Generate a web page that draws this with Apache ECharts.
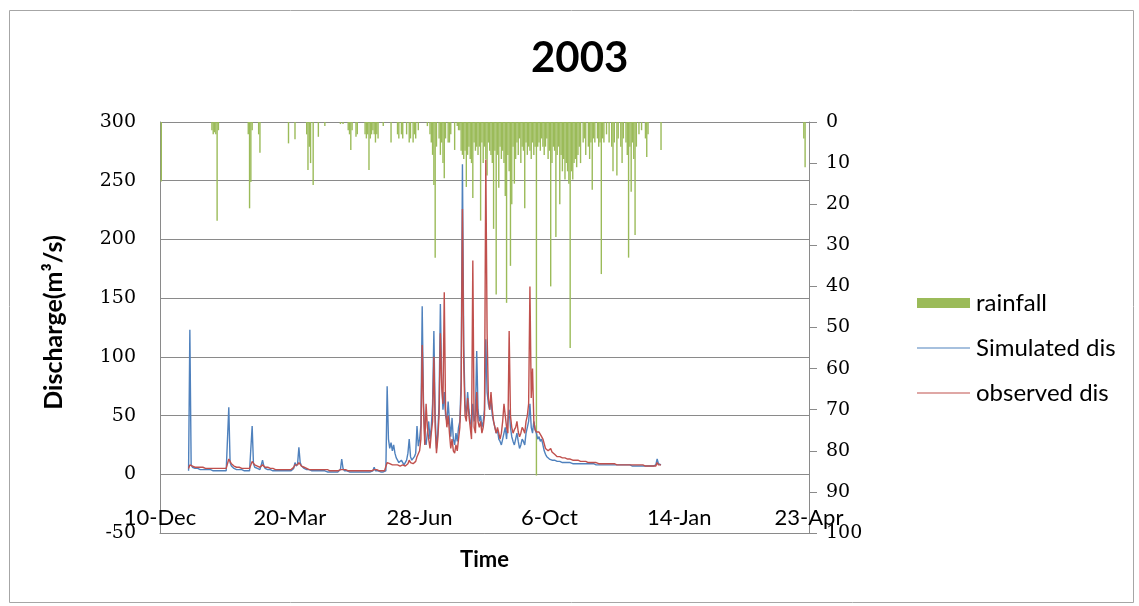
<!DOCTYPE html>
<html>
<head>
<meta charset="utf-8">
<script src="https://cdn.jsdelivr.net/npm/echarts@6/dist/echarts.min.js"></script>
<style>
html,body{margin:0;padding:0;background:#fff;}
#chart{width:1139px;height:606px;}
</style>
</head>
<body>
<div id="chart"></div>
<script>
// ---------- DATA ----------
const chartTitle = '2003';
const axisOrigin = '2002-12-10';           // day 0 of the time axis
const dischargeStart = '2003-01-01';       // first daily discharge value
const xTickLabels = ['10-Dec', '20-Mar', '28-Jun', '6-Oct', '14-Jan', '23-Apr'];
const dischargeTicks = [-50, 0, 50, 100, 150, 200, 250, 300];
const rainTicks = [0, 10, 20, 30, 40, 50, 60, 70, 80, 90, 100];
const seriesNames = ['rainfall', 'Simulated dis', 'observed dis'];

// daily simulated discharge (m3/s), 1-Jan-2003 .. 31-Dec-2003, rows of 10 days
const simulated = [
  3,123,8,6,5,5,5,5,4,4,
  4,4,4,4,4,4,4,4,4,3,
  3,3,3,3,3,3,3,3,3,3,
  4,57,10,7,6,5,5,4,4,4,
  4,4,4,3,3,3,3,3,4,41,
  9,6,5,5,4,4,5,12,7,5,
  5,4,4,4,4,3,3,3,3,3,
  3,3,3,3,3,3,3,3,3,3,
  4,5,10,7,9,23,10,7,6,5,
  5,4,4,4,3,3,3,3,3,3,
  3,3,3,3,3,3,2,2,2,2,
  2,2,2,2,2,2,3,4,13,5,
  3,3,3,2,2,2,2,2,2,2,
  2,2,2,2,2,2,2,2,2,2,
  2,3,3,6,3,3,3,2,2,2,
  2,2,3,75,30,22,27,20,25,18,
  14,12,10,9,12,10,8,9,12,18,
  30,15,12,11,15,18,41,24,30,42,
  143,60,30,25,35,45,30,40,60,122,
  50,22,35,60,145,80,55,70,50,45,
  62,45,32,48,30,25,35,28,40,45,
  80,264,110,60,50,70,55,45,40,60,
  45,50,105,55,45,50,40,45,55,115,
  70,60,55,65,50,45,40,35,38,30,
  28,25,30,35,40,30,45,55,40,32,
  28,25,30,35,28,22,25,30,28,25,
  35,40,45,60,40,35,45,38,35,30,
  32,28,30,25,20,17,15,14,13,13,
  12,12,12,11,11,11,11,10,10,10,
  10,10,10,10,10,10,9,9,9,9,
  9,9,9,9,9,9,9,9,9,9,
  9,9,9,8,8,8,8,8,8,8,
  8,8,8,8,8,8,8,8,8,8,
  8,8,8,8,8,8,8,8,8,8,
  8,8,7,7,7,7,7,7,7,7,
  7,7,7,7,7,7,7,7,7,7,
  8,13,9,8,8
];

// daily observed discharge (m3/s), same days
const observed = [
  5,8,7,7,6,6,6,6,6,6,
  6,6,5,5,5,5,5,5,5,5,
  5,5,5,5,5,5,5,5,5,5,
  6,13,11,9,8,7,7,6,6,6,
  6,5,5,5,5,5,5,5,6,11,
  10,8,7,7,6,6,7,8,7,6,
  6,6,5,5,5,5,5,4,4,4,
  4,4,4,4,4,4,4,4,4,4,
  5,6,8,7,8,10,9,7,6,6,
  5,5,5,4,4,4,4,4,4,4,
  4,4,4,4,4,4,4,4,3,3,
  3,3,3,3,3,3,3,4,5,4,
  4,4,3,3,3,3,3,3,3,3,
  3,3,3,3,3,3,3,3,3,3,
  3,3,3,4,4,4,3,3,3,3,
  3,3,4,10,9,9,9,8,9,8,
  8,8,8,7,8,8,7,7,8,9,
  12,10,9,9,10,11,15,14,20,30,
  110,55,25,60,40,30,22,35,45,100,
  40,18,30,50,120,75,60,155,55,40,
  50,35,22,30,20,18,25,20,30,40,
  70,226,95,50,45,65,50,40,30,182,
  40,35,70,45,40,45,35,40,50,268,
  120,65,55,70,55,45,40,35,40,35,
  30,35,45,60,50,40,35,122,50,40,
  35,38,40,45,36,32,35,40,38,35,
  45,50,60,160,65,90,45,38,36,35,
  36,34,32,30,26,22,21,20,20,22,
  19,18,17,16,15,15,15,14,14,14,
  14,13,13,13,13,12,12,12,12,12,
  12,11,11,11,11,11,11,10,10,10,
  10,10,10,10,10,10,9,9,9,9,
  9,9,9,9,9,9,9,9,9,8,
  8,8,8,8,8,8,8,8,8,8,
  8,8,8,8,8,8,8,8,8,8,
  8,7,7,7,7,7,7,7,7,7,
  7,10,8,8,8
];

// rainfall (mm): [day since 10-Dec-2002, mm]
const rainfall = [
  [1,14.5],
  [40,2],[41,3],[42,2.5],[43,3],[44,24],[45,2],
  [68,3],[69,21],[70,14.6],[71,2],[76,3],[77,7.5],
  [99,5.2],[104,4.2],
  [113,3],[114,11.7],[115,6],[116,10],[118,15.3],
  [122,3.6],[127,1],[139,0.5],[141,0.5],
  [145,2],[146,3],[147,6.8],[148,2],[151,3.6],[152,3],
  [158,3],[159,4],[160,3],[161,11.7],[162,4],[163,3],[164,2],[165,3],[166,5],[167,3],[168,4],
  [172,1],[178,5],[183,3],[184,4],[186,3],[187,4],
  [190,3],[192,5],[193,4],[195,5],[196,3],[197,4],[199,2],
  [206,1],[208,3],[209,5],[210,8],[211,15.3],[212,33],[213,6],
  [215,4],[216,8],[217,5],[218,10],[219,13.7],[220,4],
  [222,5],[223,5],[224,3],[227,6.8],[229,1],[230,2],[231,2],
  [232,7],[233,8],[234,9],[235,7],[236,15.8],[237,8],[238,6],[239,9],[240,10],[241,18.5],[242,5],
  [243,7],[244,6],[245,8],[246,6],[247,24],[248,5],[249,10],[250,6],[251,9],[252,13],[253,5],
  [254,7],[255,8],[256,10],[257,26],[258,7],[259,42],[260,8],[261,16],[262,6],
  [263,9],[264,7],[265,10],[266,18],[267,44],[268,8],[269,12],[270,35],[271,20],[272,6],[273,15],[274,9],
  [275,5],[276,8],[277,4],[278,10],[279,6],[280,7],[281,21],[282,5],[283,8],[284,6],[285,7],
  [286,9],[287,5],[288,8],[289,6],[290,86],[291,6],[292,5],[293,7],[294,4],[295,6],[296,8],
  [297,6],[298,4],[299,9],[300,7],[301,40],[302,10],[303,6],[304,7],[305,28],[306,8],[307,6],[308,20],[309,8],[310,12],
  [311,9],[312,14],[313,10],[314,12],[315,15],[316,55],[317,12],[318,14],[319,10],[320,9],[321,11],[322,8],
  [323,6],[324,10],[326,5],[327,4],[328,8],[330,6],[331,9],[332,5],[333,16.5],[334,4],[335,5],
  [337,4],[338,6],[339,5],[340,37],[341,4],[342,5],[344,3],[346,5],
  [348,6],[349,12],[350,5],[352,13],[353,4],[355,6],[356,10],[357,4],
  [359,5],[360,8],[361,33],[362,6],[363,17],[364,5],[365,9],[366,27.5],[367,6],
  [369,3],[371,2],[374,4],[375,8.5],[376,3],[386,6.8],
  [496,4],[497,11]
];

// ---------- BUILD ----------
const DAY = 86400000;
const startOffset = Math.round((Date.parse(dischargeStart) - Date.parse(axisOrigin)) / DAY);
const simPts = simulated.map((v, i) => [startOffset + i, v]);
const obsPts = observed.map((v, i) => [startOffset + i, v]);

const sansFont = 'Lato';
const numFont = 'DejaVu Serif';
const gridGray = '#8a8a8a';
const lineIcon = 'path://M0,0 M0,4.4 L53,4.4 L53,5.6 L0,5.6 Z M53,10';

const chart = echarts.init(document.getElementById('chart'), null, {renderer: 'canvas'});
chart.setOption({
  animation: false,
  backgroundColor: '#ffffff',
  title: {
    text: chartTitle,
    left: 531, top: 37, padding: 0,
    textStyle: {fontFamily: sansFont, fontWeight: 'bold', fontSize: 42, color: '#000'}
  },
  graphic: [{
    type: 'rect', left: 7, top: 8, z: -1,
    shape: {width: 1124, height: 592},
    style: {fill: 'none', stroke: '#a6a6a6', lineWidth: 1}
  }],
  legend: {
    orient: 'vertical', left: 917, top: 291, padding: 0,
    itemWidth: 53, itemHeight: 10, itemGap: 21,
    textStyle: {fontFamily: sansFont, fontSize: 24, color: '#000', padding: [0, 0, 0, 1]},
    data: [
      {name: seriesNames[0], icon: 'rect'},
      {name: seriesNames[1], icon: lineIcon},
      {name: seriesNames[2], icon: lineIcon}
    ]
  },
  grid: {left: 160, right: 330, top: 122, bottom: 73, containLabel: false},
  xAxis: {
    type: 'value', min: 0, max: 500, interval: 100,
    name: 'Time', nameLocation: 'middle', nameGap: 16,
    nameTextStyle: {fontFamily: sansFont, fontWeight: 'bold', fontSize: 22, color: '#000'},
    axisLine: {onZero: false, lineStyle: {color: gridGray, width: 1}},
    axisTick: {show: false},
    splitLine: {show: false},
    axisLabel: {
      margin: -15, verticalAlign: 'middle',
      fontFamily: sansFont, fontSize: 22, color: '#000',
      formatter: v => xTickLabels[Math.round(v / 100)] || ''
    }
  },
  yAxis: [{
    type: 'value', min: dischargeTicks[0], max: dischargeTicks[dischargeTicks.length - 1], interval: 50,
    name: 'Discharge(m³/s)', nameLocation: 'middle', nameGap: 94, nameRotate: 90,
    nameTextStyle: {fontFamily: sansFont, fontWeight: 'bold', fontSize: 25, color: '#000', padding: [0, 0, 0, 10]},
    axisLine: {show: true, lineStyle: {color: gridGray, width: 1}},
    axisTick: {show: false},
    splitLine: {show: true, lineStyle: {color: gridGray, width: 1}},
    axisLabel: {margin: 24, fontFamily: numFont, fontSize: 19, color: '#000'}
  }, {
    type: 'value', min: rainTicks[0], max: rainTicks[rainTicks.length - 1], interval: 10, inverse: true,
    position: 'right',
    axisLine: {show: true, lineStyle: {color: gridGray, width: 1}},
    axisTick: {show: true, length: 8, inside: false, lineStyle: {color: gridGray}},
    splitLine: {show: false},
    axisLabel: {margin: 17, fontFamily: numFont, fontSize: 19, color: '#000'}
  }],
  series: [{
    name: seriesNames[0], type: 'bar', yAxisIndex: 1,
    barWidth: 1.4, itemStyle: {color: '#9bbb59'},
    data: rainfall
  }, {
    name: seriesNames[1], type: 'line', yAxisIndex: 0,
    symbol: 'none', showSymbol: false,
    lineStyle: {color: '#4f81bd', width: 1.4}, itemStyle: {color: '#4f81bd'},
    data: simPts
  }, {
    name: seriesNames[2], type: 'line', yAxisIndex: 0,
    symbol: 'none', showSymbol: false,
    lineStyle: {color: '#c0504d', width: 1.4}, itemStyle: {color: '#c0504d'},
    data: obsPts
  }]
});
</script>
</body>
</html>
